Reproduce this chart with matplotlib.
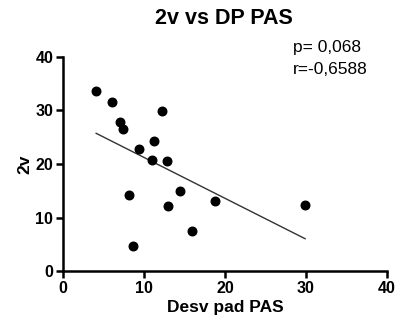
import numpy as np
import matplotlib.pyplot as plt

plt.rcParams['font.family'] = ['Liberation Sans', 'DejaVu Sans']

# valores
desv_pad_pas = [4.1, 6.1, 7.0, 7.4, 12.2, 9.4, 11.3, 11.0, 12.8, 8.1, 14.5, 13.0, 18.8, 15.9, 8.6, 29.9]
v2 = [33.6, 31.5, 27.8, 26.6, 29.9, 22.8, 24.3, 20.7, 20.5, 14.3, 15.0, 12.1, 13.1, 7.5, 4.7, 12.3]

fig = plt.figure(figsize=(3.96, 3.29), dpi=100)
ax = fig.add_axes([0.159, 0.176, 0.818, 0.651])

ax.scatter(desv_pad_pas, v2, s=38, color='black', zorder=3)

# recta de regresion
m, b = np.polyfit(desv_pad_pas, v2, 1)
xs = np.array([min(desv_pad_pas), max(desv_pad_pas)])
ax.plot(xs, m * xs + b, color='#333333', linewidth=1.0)

ax.set_xlim(0, 40)
ax.set_ylim(0, 40)
ax.set_xticks([0, 10, 20, 30, 40])
ax.set_yticks([0, 10, 20, 30, 40])
for s in ['top', 'right']:
    ax.spines[s].set_visible(False)
for s in ['left', 'bottom']:
    ax.spines[s].set_linewidth(1.8)
ax.tick_params(width=1.8, length=5, labelsize=11.5, pad=2)
for lab in ax.get_xticklabels() + ax.get_yticklabels():
    lab.set_fontweight('bold')

fig.text(0.566, 0.945, '2v vs DP PAS', fontsize=15.5, fontweight='bold', ha='center', va='center')
ax.set_xlabel('Desv pad PAS', fontsize=12.5, fontweight='bold', labelpad=3)
ax.set_ylabel('2v', fontsize=12.5, fontweight='bold', labelpad=2)

fig.text(0.74, 0.855, 'p= 0,068', fontsize=12.5, va='center', ha='left')
fig.text(0.74, 0.788, 'r=-0,6588', fontsize=12.5, va='center', ha='left')

fig.savefig('out.png', dpi=100)
